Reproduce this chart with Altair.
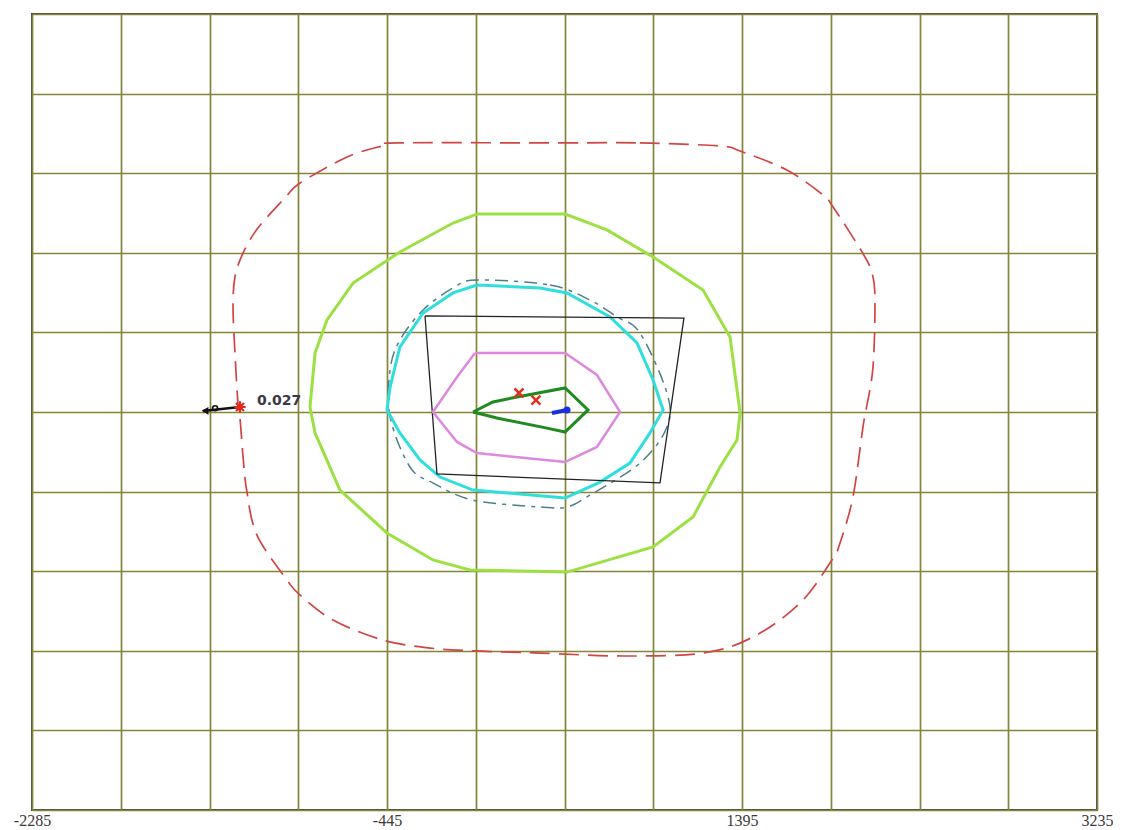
import altair as alt
import pandas as pd

# ---- axis / grid values ----
X_DOMAIN = [-2285, 3235]
Y_DOMAIN = [-2300, 2300]
x_grid = [-2285, -1825, -1365, -905, -445, 15, 475, 935, 1395, 1855, 2315, 2775, 3235]
y_grid = [-2300, -1840, -1380, -920, -460, 0, 460, 920, 1380, 1840, 2300]
x_labels = [-2285, -445, 1395, 3235]

# ---- contours (closed polygons) ----
red_x = [450, 865, 1281, 1385, 1628, 1815, 1867, 2017, 2069, 2084, 2074, 2038, 2022, 1970, 1903,
         1861, 1696, 1452, 1193, 778, 348, 21, -222, -466, -725, -896, -963, -1119, -1171, -1191,
         -1207, -1217, -1233, -1243, -1233, -1191, -1114, -974, -896, -652, -471, -393, 21]
red_y = [1555, 1555, 1537, 1508, 1398, 1254, 1185, 925, 803, 647, 260, 12, -87, -491, -757,
         -855, -1104, -1300, -1393, -1410, -1393, -1381, -1364, -1318, -1202, -1058, -971, -711, -462, -260,
         -35, 40, 341, 607, 780, 919, 1063, 1237, 1323, 1474, 1537, 1555, 1560]

lime_x = [21, 478, 695, 934, 1193, 1333, 1385, 1369, 1281, 1141, 934, 488, -15, -207, -445,
          -689, -818, -844, -818, -756, -621, -378, -103]
lime_y = [1144, 1144, 1052, 896, 705, 433, -6, -162, -318, -607, -780, -925, -913, -855, -699,
          -451, -121, 29, 341, 532, 745, 925, 1092]

cyan_x = [21, 348, 488, 711, 851, 934, 986, 918, 814, 659, 478, 1, -170, -274, -378, -445, -429, -378, -258, -103]
cyan_y = [734, 717, 688, 549, 399, 185, 12, -121, -295, -405, -497, -451, -376, -277, -121, 12, 144, 376, 572, 688]

teal_x = [21, 400, 607, 747, 866, 1006, 1006, 866, 607, 488, 348, 1, -207, -326, -429, -429, -378, -258, -103]
teal_y = [763, 734, 647, 549, 457, 110, -87, -295, -480, -549, -549, -509, -410, -318, -29, 243, 416, 589, 717]

quad_x = [-248, 1094, 970, -186]
quad_y = [555, 543, -410, -358]

pink_x = [11, 478, 643, 763, 643, 478, 21, -82, -207, -82]
pink_y = [341, 341, 214, 0, -202, -289, -237, -173, 0, 202]

green_x = [1, 104, 229, 478, 597, 478, 384, 125]
green_y = [0, 58, 87, 139, 12, -116, -93, -35]

# ---- markers ----
xmark_x = [239, 327]
xmark_y = [110, 69]
blue_x = [488, 410]
blue_y = [12, -6]
star_x = [-1207]
star_y = [29]
arrow_x = [-1207, -1399]
arrow_y = [29, 6]
arrow_head_x = [-1388]
arrow_head_y = [7]
ring_x = [-1336]
ring_y = [22]
label_x = [-1119]
label_y = [40]
label_text = ["0.027"]


def path(name, xs, ys, close=True):
    xs = list(xs) + ([xs[0]] if close else [])
    ys = list(ys) + ([ys[0]] if close else [])
    return pd.DataFrame({"x": xs, "y": ys, "i": range(len(xs)), "s": name})


df = pd.concat([
    path("red", red_x[:-1], red_y[:-1], close=False),
    path("lime", lime_x, lime_y),
    path("cyan", cyan_x, cyan_y),
    path("teal", teal_x, teal_y, close=False),
    path("quad", quad_x, quad_y),
    path("pink", pink_x, pink_y),
    path("green", green_x, green_y),
], ignore_index=True)

xscale = alt.Scale(domain=X_DOMAIN, nice=False, zero=False)
yscale = alt.Scale(domain=Y_DOMAIN, nice=False, zero=False)
label_list = ",".join(str(v) for v in x_labels)
xaxis = alt.Axis(values=x_grid, title=None, domain=False, ticks=False, grid=True,
                 gridColor="#85853a", gridWidth=1.7, gridOpacity=1,
                 labelExpr=f"indexof([{label_list}], datum.value) >= 0 ? toString(datum.value) : ''",
                 labelFont="Liberation Serif", labelFontSize=16, labelColor="#3a3a3a",
                 labelPadding=2, labelOverlap=False, labelFlush=False, labelBound=False)
yaxis = alt.Axis(values=y_grid, title=None, domain=False, ticks=False, labels=False, grid=True,
                 gridColor="#85853a", gridWidth=1.7, gridOpacity=1, minExtent=0, maxExtent=0)

X = alt.X("x:Q", scale=xscale, axis=xaxis)
Y = alt.Y("y:Q", scale=yscale, axis=yaxis)

base = alt.Chart(df).encode(x=X, y=Y, order=alt.Order("i:Q"))


def contour(name, color, width, dash=None, interp=None):
    kw = dict(color=color, strokeWidth=width, clip=True)
    if dash:
        kw["strokeDash"] = dash
    if interp:
        kw["interpolate"] = interp
    return base.transform_filter(alt.datum.s == name).mark_line(**kw)


layers = [
    contour("red", "#d24545", 1.7, [20, 9], "cardinal-closed"),
    contour("lime", "#9de043", 3),
    contour("teal", "#4e7f8d", 1.5, [13, 6, 4, 6], "cardinal-closed"),
    contour("cyan", "#30dede", 3),
    contour("quad", "#222222", 1.3),
    contour("pink", "#de88de", 2.5),
    contour("green", "#1f8a1f", 3),
]

# arrow on the left
arrow_df = pd.DataFrame({"x": arrow_x, "y": arrow_y, "i": [0, 1]})
layers.append(alt.Chart(arrow_df).mark_line(color="#111111", strokeWidth=2.6).encode(
    x=X, y=Y, order=alt.Order("i:Q")))
layers.append(alt.Chart(pd.DataFrame({"x": arrow_head_x, "y": arrow_head_y})).mark_point(
    shape="triangle-left", filled=True, color="#111111", size=60, opacity=1).encode(x=X, y=Y))
layers.append(alt.Chart(pd.DataFrame({"x": ring_x, "y": ring_y})).mark_point(
    shape="circle", filled=False, color="#111111", size=25, strokeWidth=1.6, opacity=1).encode(x=X, y=Y))
layers.append(alt.Chart(pd.DataFrame({"x": star_x, "y": star_y})).mark_point(
    shape="M-1,0L1,0M0,-1L0,1M-0.7,-0.7L0.7,0.7M0.7,-0.7L-0.7,0.7",
    filled=False, color="#e02a1e", size=130, strokeWidth=2.2, opacity=1).encode(x=X, y=Y))
layers.append(alt.Chart(pd.DataFrame({"x": label_x, "y": label_y, "t": label_text})).mark_text(
    align="left", baseline="alphabetic", font="DejaVu Sans", fontWeight="bold", fontSize=14,
    color="#3a3a48").encode(x=X, y=Y, text="t:N"))

# center markers
blue_df = pd.DataFrame({"x": blue_x, "y": blue_y, "i": [0, 1]})
layers.append(alt.Chart(blue_df).mark_line(color="#1a2ee0", strokeWidth=4).encode(
    x=X, y=Y, order=alt.Order("i:Q")))
layers.append(alt.Chart(pd.DataFrame({"x": [blue_x[0]], "y": [blue_y[0]]})).mark_point(
    shape="circle", filled=True, color="#1a2ee0", size=50, opacity=1).encode(x=X, y=Y))
layers.append(alt.Chart(pd.DataFrame({"x": xmark_x, "y": xmark_y})).mark_point(
    shape="M-1,-1L1,1M1,-1L-1,1", filled=False, color="#e0321e", size=80, strokeWidth=2.5,
    opacity=1).encode(x=X, y=Y))

chart = alt.layer(*layers).properties(
    width=1065, height=796,
    autosize=alt.AutoSizeParams(type="none"),
    padding={"left": 24, "top": 6, "right": 16, "bottom": 22},
    background="white",
).configure_view(stroke="#4a4a4a", strokeWidth=2)

chart.save("out.html", embed_options={"renderer": "svg", "actions": False})
